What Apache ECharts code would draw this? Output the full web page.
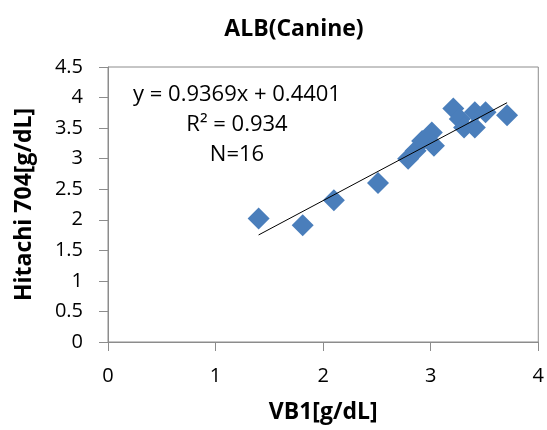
<!DOCTYPE html>
<html>
<head>
<meta charset="utf-8">
<style>
  html, body { margin: 0; padding: 0; background: #fff; }
  #chart { width: 547px; height: 430px; }
</style>
<script src="https://cdn.jsdelivr.net/npm/echarts@6/dist/echarts.min.js"></script>
</head>
<body>
<div id="chart"></div>
<script>
// VB1 measurements (x) against Hitachi 704 measurements (y), canine ALB
const vb1 =     [1.40, 1.81, 2.10, 2.51, 2.79, 2.86, 2.92, 3.01, 3.03, 3.21, 3.27, 3.31, 3.41, 3.41, 3.51, 3.71];
const hitachi = [2.02, 1.91, 2.32, 2.60, 3.00, 3.13, 3.29, 3.43, 3.21, 3.82, 3.65, 3.51, 3.76, 3.51, 3.76, 3.71];

// Linear fit as stated in the annotation
const slope = 0.9369;
const intercept = 0.4401;
const r2 = 0.934;

const xTicks = [0, 1, 2, 3, 4];
const yTicks = [0, 0.5, 1, 1.5, 2, 2.5, 3, 3.5, 4, 4.5];

const points = vb1.map((x, i) => [x, hitachi[i]]);
const xMin = Math.min(...vb1);
const xMax = Math.max(...vb1);
const fitLine = [[xMin, slope * xMin + intercept], [xMax, slope * xMax + intercept]];

const FONT = '"Open Sans", "Noto Sans", sans-serif';
const chart = echarts.init(document.getElementById('chart'), null, { renderer: 'canvas' });

chart.setOption({
  animation: false,
  backgroundColor: '#ffffff',
  title: {
    text: 'ALB(Canine)',
    left: 289,
    top: 13,
    textAlign: 'center',
    textStyle: { fontFamily: FONT, fontWeight: 'bold', fontSize: 23, color: '#000' }
  },
  grid: {
    left: 108, right: 7, top: 67, bottom: 88,
    show: true, borderColor: '#8c8c8c', borderWidth: 1
  },
  xAxis: {
    type: 'value', min: xTicks[0], max: xTicks[xTicks.length - 1], interval: 1,
    name: 'VB1[g/dL]', nameLocation: 'middle', nameGap: 59,
    nameTextStyle: { fontFamily: FONT, fontWeight: 'bold', fontSize: 23, color: '#000' },
    axisLine: { lineStyle: { color: '#8c8c8c', width: 1 } },
    axisTick: { show: true, length: 9, lineStyle: { color: '#8c8c8c' } },
    axisLabel: { margin: 24, fontFamily: FONT, fontSize: 20, color: '#000' },
    splitLine: { show: false }
  },
  yAxis: {
    type: 'value', min: yTicks[0], max: yTicks[yTicks.length - 1], interval: 0.5,
    name: 'Hitachi 704[g/dL]', nameLocation: 'middle', nameGap: 72, nameRotate: 90,
    nameTextStyle: { fontFamily: FONT, fontWeight: 'bold', fontSize: 23, color: '#000' },
    axisLine: { show: true, lineStyle: { color: '#8c8c8c', width: 1 } },
    axisTick: { show: true, length: 9, lineStyle: { color: '#8c8c8c' } },
    axisLabel: { margin: 25, fontFamily: FONT, fontSize: 20, color: '#000' },
    splitLine: { show: false }
  },
  series: [
    {
      type: 'scatter',
      data: points,
      symbol: 'diamond',
      symbolSize: 22,
      itemStyle: { color: '#4a7ebb', opacity: 1 },
      z: 2
    },
    {
      type: 'line',
      data: fitLine,
      symbol: 'none',
      lineStyle: { color: '#000', width: 1 },
      z: 3
    }
  ],
  graphic: [
    {
      type: 'text', x: 237, y: 95,
      style: {
        text: 'y = ' + slope + 'x + ' + intercept,
        font: '22px ' + FONT, fill: '#000', align: 'center', verticalAlign: 'middle'
      }
    },
    {
      type: 'text', x: 237, y: 125,
      style: {
        text: 'R² = ' + r2,
        font: '22px ' + FONT, fill: '#000', align: 'center', verticalAlign: 'middle'
      }
    },
    {
      type: 'text', x: 237, y: 155,
      style: {
        text: 'N=' + points.length,
        font: '22px ' + FONT, fill: '#000', align: 'center', verticalAlign: 'middle'
      }
    }
  ]
});
</script>
</body>
</html>
